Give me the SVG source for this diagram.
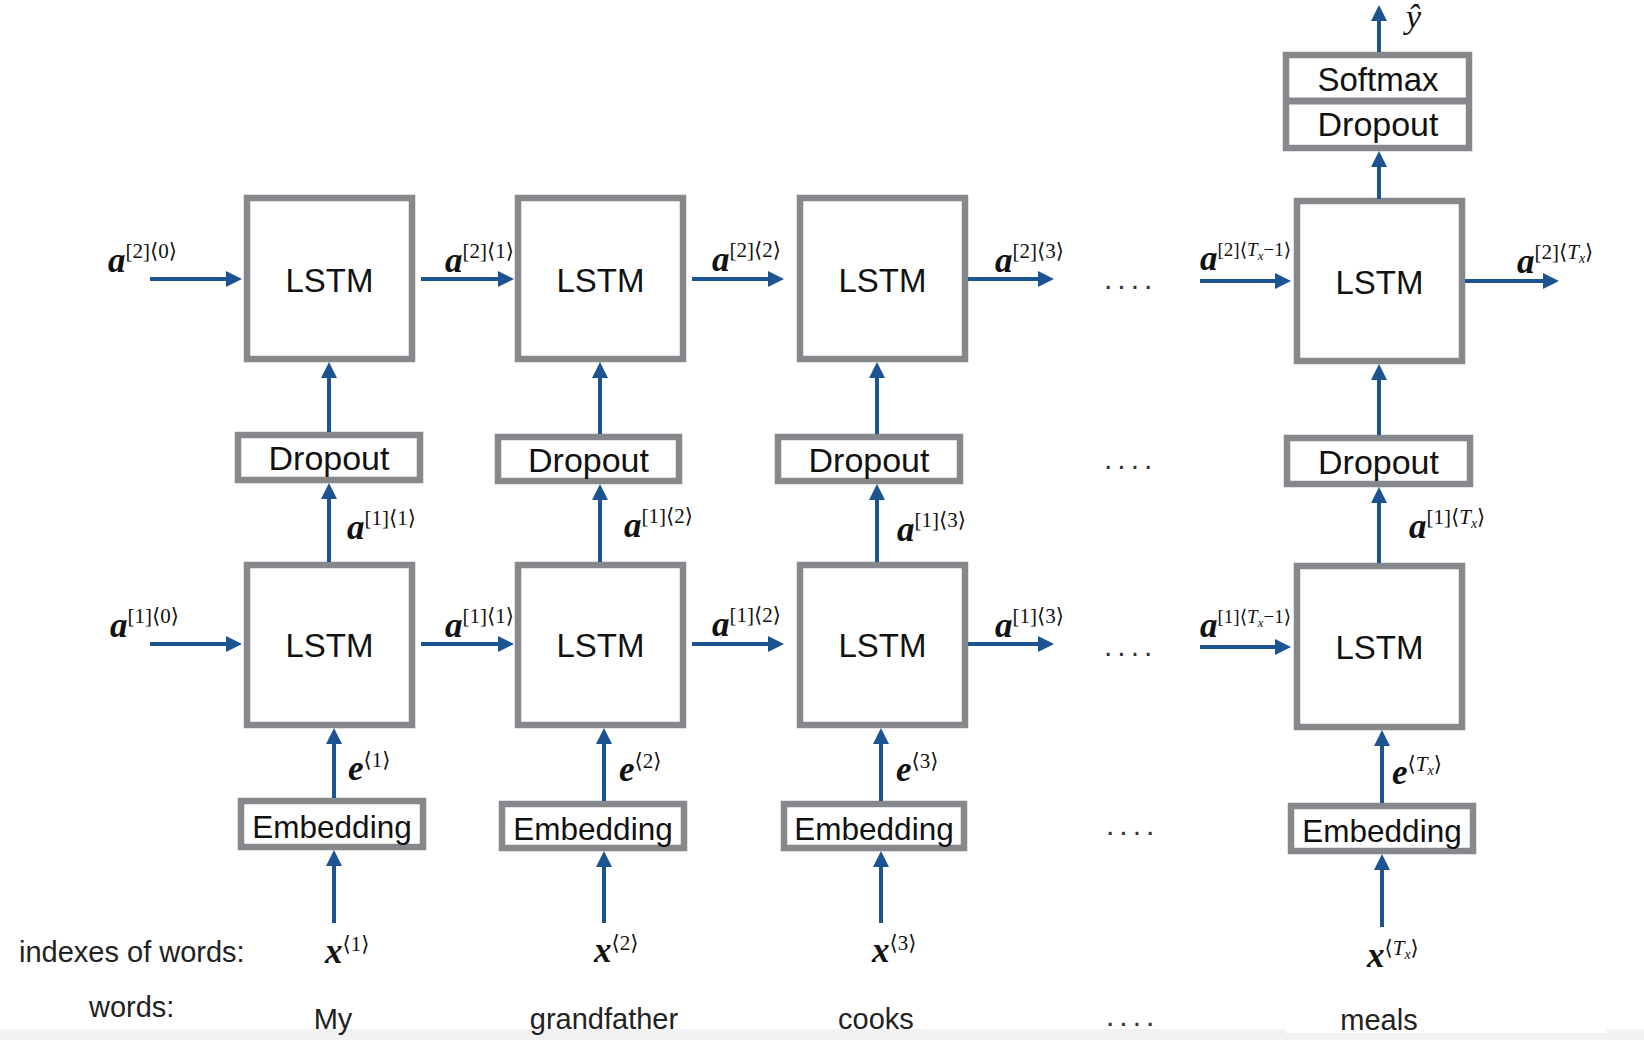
<svg xmlns="http://www.w3.org/2000/svg" width="1644" height="1040" viewBox="0 0 1644 1040">
<defs>
<marker id="ah" markerUnits="userSpaceOnUse" markerWidth="17" markerHeight="16" refX="6" refY="8" orient="auto"><path d="M0,0 L16,8 L0,16 Z" fill="#1b5490"/></marker>
<style>
.box{fill:#fff;stroke:#86888c;stroke-width:6.5}
.div{stroke:#86888c;stroke-width:7}
.lbl{font-family:"Liberation Sans",Arial,sans-serif;font-size:33px;fill:#111;text-anchor:middle}
.emb{font-size:31.5px}
.drp{font-size:34px}
.con{stroke:#1b5490;stroke-width:4;fill:none;marker-end:url(#ah)}
.m{font-family:"Liberation Serif","DejaVu Serif",serif;fill:#111}
.v{font-style:italic;font-weight:bold;font-size:35px}
.s{font-size:21px;font-style:normal;font-weight:normal}
.si{font-size:21px;font-style:italic;font-weight:normal}
.ss{font-size:14px;font-style:italic;font-weight:normal}
.n .s,.n .si{font-size:19px}
.n .ss{font-size:13px}
.txt{font-family:"Liberation Sans",Arial,sans-serif;font-size:29px;fill:#222}
.dots{font-family:"Liberation Sans",Arial,sans-serif;font-size:30px;letter-spacing:5px;fill:#333}
</style>
</defs>
<rect x="0" y="0" width="1644" height="1040" fill="#fff"/>
<rect x="0" y="1029" width="1644" height="11" fill="#f2f2f2"/>
<rect x="1285" y="1024" width="322" height="9" fill="#fff"/>

<!-- nodes -->
<g id="lstm2-1"><rect class="box" x="247" y="198" width="165" height="161"/><text class="lbl" x="329.5" y="292">LSTM</text></g>
<g id="lstm2-2"><rect class="box" x="518" y="198" width="165" height="161"/><text class="lbl" x="600.5" y="292">LSTM</text></g>
<g id="lstm2-3"><rect class="box" x="800" y="198" width="165" height="161"/><text class="lbl" x="882.5" y="292">LSTM</text></g>
<g id="lstm2-T"><rect class="box" x="1297" y="201" width="165" height="160"/><text class="lbl" x="1379.5" y="294">LSTM</text></g>

<g id="softmax-dropout"><rect class="box" x="1286" y="55" width="183" height="93"/><line class="div" x1="1286" y1="101" x2="1469" y2="101"/><text class="lbl" x="1378" y="91">Softmax</text><text class="lbl drp" x="1378" y="136">Dropout</text></g>

<g id="dropout-1"><rect class="box" x="238" y="435" width="182" height="45"/><text class="lbl drp" x="329" y="470">Dropout</text></g>
<g id="dropout-2"><rect class="box" x="498" y="437" width="181" height="44"/><text class="lbl drp" x="588.5" y="472">Dropout</text></g>
<g id="dropout-3"><rect class="box" x="778" y="437" width="182" height="44"/><text class="lbl drp" x="869" y="472">Dropout</text></g>
<g id="dropout-T"><rect class="box" x="1287" y="438" width="183" height="46"/><text class="lbl drp" x="1378.5" y="474">Dropout</text></g>

<g id="lstm1-1"><rect class="box" x="247" y="565" width="165" height="160"/><text class="lbl" x="329.5" y="657">LSTM</text></g>
<g id="lstm1-2"><rect class="box" x="518" y="565" width="165" height="160"/><text class="lbl" x="600.5" y="657">LSTM</text></g>
<g id="lstm1-3"><rect class="box" x="800" y="565" width="165" height="160"/><text class="lbl" x="882.5" y="657">LSTM</text></g>
<g id="lstm1-T"><rect class="box" x="1297" y="566" width="165" height="161"/><text class="lbl" x="1379.5" y="659">LSTM</text></g>

<g id="embedding-1"><rect class="box" x="241" y="801" width="182" height="46"/><text class="lbl emb" x="332" y="838">Embedding</text></g>
<g id="embedding-2"><rect class="box" x="502" y="804" width="182" height="44"/><text class="lbl emb" x="593" y="840">Embedding</text></g>
<g id="embedding-3"><rect class="box" x="784" y="804" width="180" height="44"/><text class="lbl emb" x="874" y="840">Embedding</text></g>
<g id="embedding-T"><rect class="box" x="1291" y="806" width="182" height="45"/><text class="lbl emb" x="1382" y="842">Embedding</text></g>

<!-- connectors -->
<g id="connectors">
<line class="con" x1="150" y1="279" x2="232" y2="279"/>
<line class="con" x1="421" y1="279" x2="504" y2="279"/>
<line class="con" x1="692" y1="279" x2="774" y2="279"/>
<line class="con" x1="968" y1="279" x2="1044" y2="279"/>
<line class="con" x1="1200" y1="281" x2="1281" y2="281"/>
<line class="con" x1="1465" y1="281" x2="1549" y2="281"/>

<line class="con" x1="150" y1="644" x2="232" y2="644"/>
<line class="con" x1="421" y1="644" x2="504" y2="644"/>
<line class="con" x1="692" y1="644" x2="774" y2="644"/>
<line class="con" x1="968" y1="644" x2="1044" y2="644"/>
<line class="con" x1="1200" y1="647" x2="1281" y2="647"/>

<line class="con" x1="329" y1="432" x2="329" y2="372"/>
<line class="con" x1="329" y1="562" x2="329" y2="493"/>
<line class="con" x1="334" y1="798" x2="334" y2="738"/>
<line class="con" x1="334" y1="923" x2="334" y2="860"/>

<line class="con" x1="600" y1="434" x2="600" y2="372"/>
<line class="con" x1="600" y1="562" x2="600" y2="494"/>
<line class="con" x1="604" y1="801" x2="604" y2="738"/>
<line class="con" x1="604" y1="923" x2="604" y2="861"/>

<line class="con" x1="877" y1="434" x2="877" y2="372"/>
<line class="con" x1="877" y1="562" x2="877" y2="494"/>
<line class="con" x1="881" y1="801" x2="881" y2="738"/>
<line class="con" x1="881" y1="923" x2="881" y2="861"/>

<line class="con" x1="1379" y1="52" x2="1379" y2="15"/>
<line class="con" x1="1379" y1="199" x2="1379" y2="161"/>
<line class="con" x1="1379" y1="435" x2="1379" y2="374"/>
<line class="con" x1="1379" y1="563" x2="1379" y2="497"/>
<line class="con" x1="1382" y1="803" x2="1382" y2="740"/>
<line class="con" x1="1382" y1="927" x2="1382" y2="864"/>
</g>

<!-- math labels -->
<g id="labels">
<text class="m" x="108" y="272"><tspan class="v">a</tspan><tspan class="s" dy="-14">[2]⟨0⟩</tspan></text>
<text class="m" x="445" y="272"><tspan class="v">a</tspan><tspan class="s" dy="-14">[2]⟨1⟩</tspan></text>
<text class="m" x="712" y="271"><tspan class="v">a</tspan><tspan class="s" dy="-14">[2]⟨2⟩</tspan></text>
<text class="m" x="995" y="272"><tspan class="v">a</tspan><tspan class="s" dy="-14">[2]⟨3⟩</tspan></text>
<text class="m n" x="1200" y="270"><tspan class="v">a</tspan><tspan class="s" dy="-14">[2]⟨</tspan><tspan class="si">T</tspan><tspan class="ss" dy="4">x</tspan><tspan class="s" dy="-4">−1⟩</tspan></text>
<text class="m" x="1517" y="273"><tspan class="v">a</tspan><tspan class="s" dy="-14">[2]⟨</tspan><tspan class="si">T</tspan><tspan class="ss" dy="4">x</tspan><tspan class="s" dy="-4">⟩</tspan></text>

<text class="m" x="110" y="637"><tspan class="v">a</tspan><tspan class="s" dy="-14">[1]⟨0⟩</tspan></text>
<text class="m" x="445" y="637"><tspan class="v">a</tspan><tspan class="s" dy="-14">[1]⟨1⟩</tspan></text>
<text class="m" x="712" y="636"><tspan class="v">a</tspan><tspan class="s" dy="-14">[1]⟨2⟩</tspan></text>
<text class="m" x="995" y="637"><tspan class="v">a</tspan><tspan class="s" dy="-14">[1]⟨3⟩</tspan></text>
<text class="m n" x="1200" y="637"><tspan class="v">a</tspan><tspan class="s" dy="-14">[1]⟨</tspan><tspan class="si">T</tspan><tspan class="ss" dy="4">x</tspan><tspan class="s" dy="-4">−1⟩</tspan></text>

<text class="m" x="347" y="539"><tspan class="v">a</tspan><tspan class="s" dy="-14">[1]⟨1⟩</tspan></text>
<text class="m" x="624" y="537"><tspan class="v">a</tspan><tspan class="s" dy="-14">[1]⟨2⟩</tspan></text>
<text class="m" x="897" y="541"><tspan class="v">a</tspan><tspan class="s" dy="-14">[1]⟨3⟩</tspan></text>
<text class="m" x="1409" y="538"><tspan class="v">a</tspan><tspan class="s" dy="-14">[1]⟨</tspan><tspan class="si">T</tspan><tspan class="ss" dy="4">x</tspan><tspan class="s" dy="-4">⟩</tspan></text>

<text class="m" x="348" y="780"><tspan class="v">e</tspan><tspan class="s" dy="-13">⟨1⟩</tspan></text>
<text class="m" x="619" y="781"><tspan class="v">e</tspan><tspan class="s" dy="-13">⟨2⟩</tspan></text>
<text class="m" x="896" y="781"><tspan class="v">e</tspan><tspan class="s" dy="-13">⟨3⟩</tspan></text>
<text class="m" x="1392" y="784"><tspan class="v">e</tspan><tspan class="s" dy="-13">⟨</tspan><tspan class="si">T</tspan><tspan class="ss" dy="4">x</tspan><tspan class="s" dy="-4">⟩</tspan></text>

<text class="m" x="325" y="963"><tspan class="v">x</tspan><tspan class="s" dy="-12">⟨1⟩</tspan></text>
<text class="m" x="594" y="962"><tspan class="v">x</tspan><tspan class="s" dy="-12">⟨2⟩</tspan></text>
<text class="m" x="872" y="962"><tspan class="v">x</tspan><tspan class="s" dy="-12">⟨3⟩</tspan></text>
<text class="m" x="1367" y="967"><tspan class="v">x</tspan><tspan class="s" dy="-12">⟨</tspan><tspan class="si">T</tspan><tspan class="ss" dy="4">x</tspan><tspan class="s" dy="-4">⟩</tspan></text>

<text class="m" x="1406" y="28" style="font-style:italic;font-size:34px">ŷ</text>

<text class="txt" x="19" y="962">indexes of words:</text>
<text class="txt" x="89" y="1017">words:</text>
<text class="txt" x="333" y="1029" text-anchor="middle">My</text>
<text class="txt" x="604" y="1029" text-anchor="middle">grandfather</text>
<text class="txt" x="876" y="1029" text-anchor="middle">cooks</text>
<text class="txt" x="1379" y="1030" text-anchor="middle">meals</text>

<text class="dots" x="1104" y="289">....</text>
<text class="dots" x="1104" y="469">....</text>
<text class="dots" x="1104" y="656">....</text>
<text class="dots" x="1106" y="835">....</text>
<text class="dots" x="1106" y="1026">....</text>
</g>
</svg>
